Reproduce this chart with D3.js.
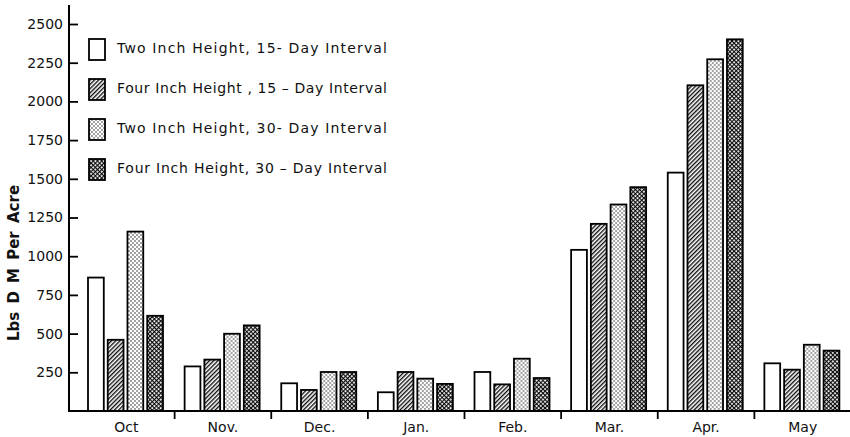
<!DOCTYPE html>
<html>
<head>
<meta charset="utf-8">
<script src="https://cdn.jsdelivr.net/npm/d3@7"></script>
<style>
  body { margin: 0; background: #fff; }
  text { font-family: "DejaVu Sans", sans-serif; fill: #111; }
</style>
</head>
<body>
<svg id="chart"></svg>
<script>
// data
const months = ["Oct", "Nov.", "Dec.", "Jan.", "Feb.", "Mar.", "Apr.", "May"];
const seriesNames = [
    "Two Inch Height, 15- Day Interval",
    "Four Inch Height , 15 – Day Interval",
    "Two Inch Height, 30- Day Interval",
    "Four Inch Height, 30 – Day Interval"
];
const twoInch15 = [862, 288, 179, 121, 252, 1041, 1540, 308];
const fourInch15 = [460, 332, 136, 252, 172, 1209, 2104, 267];
const twoInch30 = [1159, 499, 252, 209, 338, 1334, 2272, 428];
const fourInch30 = [615, 553, 252, 175, 213, 1446, 2401, 390];
const yTicks = [250, 500, 750, 1000, 1250, 1500, 1750, 2000, 2250, 2500];

const allSeries = [twoInch15, fourInch15, twoInch30, fourInch30];
const fills = ["#fff", "url(#hatch)", "url(#dots)", "url(#cross)"];

const width = 850, height = 437;
const svg = d3.select("#chart").attr("width", width).attr("height", height);

// patterns
const defs = svg.append("defs");
const hatch = defs.append("pattern").attr("id", "hatch")
    .attr("patternUnits", "userSpaceOnUse").attr("width", 3).attr("height", 3)
    .attr("patternTransform", "rotate(45)");
hatch.append("rect").attr("width", 3).attr("height", 3).attr("fill", "#fff");
hatch.append("line").attr("x1", 0.7).attr("y1", 0).attr("x2", 0.7).attr("y2", 3)
    .attr("stroke", "#000").attr("stroke-width", 1.3);

const dots = defs.append("pattern").attr("id", "dots")
    .attr("patternUnits", "userSpaceOnUse").attr("width", 4).attr("height", 4);
dots.append("rect").attr("width", 4).attr("height", 4).attr("fill", "#fff");
dots.append("circle").attr("cx", 1).attr("cy", 1).attr("r", 0.7).attr("fill", "#000");
dots.append("circle").attr("cx", 3).attr("cy", 3).attr("r", 0.7).attr("fill", "#000");

const cross = defs.append("pattern").attr("id", "cross")
    .attr("patternUnits", "userSpaceOnUse").attr("width", 3).attr("height", 3)
    .attr("patternTransform", "rotate(45)");
cross.append("rect").attr("width", 3).attr("height", 3).attr("fill", "#fff");
cross.append("line").attr("x1", 0.6).attr("y1", 0).attr("x2", 0.6).attr("y2", 3)
    .attr("stroke", "#000").attr("stroke-width", 1.1);
cross.append("line").attr("x1", 0).attr("y1", 0.6).attr("x2", 3).attr("y2", 0.6)
    .attr("stroke", "#000").attr("stroke-width", 1.1);

// scales
const axisX = 69, baseY = 411;
const x = d3.scaleBand().domain(months).range([78, 851]);
const xs = d3.scaleBand().domain(d3.range(4)).range([10, 85]).paddingInner(0.2);
const y = d3.scaleLinear().domain([0, 2500]).range([baseY, 24]);

// bars
const groups = svg.append("g").selectAll("g")
    .data(months).join("g")
    .attr("transform", d => `translate(${x(d)},0)`);

groups.selectAll("rect")
    .data((m, i) => allSeries.map((s, k) => ({ k: k, v: s[i] })))
    .join("rect")
    .attr("x", d => xs(d.k))
    .attr("y", d => y(d.v))
    .attr("width", xs.bandwidth())
    .attr("height", d => baseY - y(d.v))
    .attr("fill", d => fills[d.k])
    .attr("stroke", "#000")
    .attr("stroke-width", 1.8);

// y axis, ticks pointing inward
const yAxis = d3.axisLeft(y).tickValues(yTicks).tickFormat(d3.format("d"))
    .tickSize(-9).tickPadding(6).tickSizeOuter(0);
const yg = svg.append("g").attr("transform", `translate(${axisX},0)`).call(yAxis);
yg.select(".domain").remove();
yg.selectAll(".tick line").attr("stroke", "#000").attr("stroke-width", 1.8);
yg.selectAll(".tick text").style("font-size", "14px").attr("fill", "#111");
svg.append("line").attr("x1", axisX).attr("x2", axisX).attr("y1", 5).attr("y2", baseY + 1)
    .attr("stroke", "#000").attr("stroke-width", 2);

// x axis: baseline, separator ticks and month labels
svg.append("line").attr("x1", axisX).attr("x2", width).attr("y1", baseY).attr("y2", baseY)
    .attr("stroke", "#000").attr("stroke-width", 2);
const xAxis = d3.axisBottom(x).tickSize(0).tickPadding(0);
const xg = svg.append("g").attr("transform", `translate(0,${baseY})`).call(xAxis);
xg.select(".domain").remove();
xg.selectAll(".tick text").attr("dy", null).attr("y", 21).style("font-size", "14px");
svg.append("g").selectAll("line")
    .data(months.slice(1)).join("line")
    .attr("x1", d => x(d)).attr("x2", d => x(d))
    .attr("y1", baseY).attr("y2", baseY + 8)
    .attr("stroke", "#000").attr("stroke-width", 1.8);

// y title
svg.append("text")
    .attr("transform", "translate(19,263) rotate(-90)")
    .attr("text-anchor", "middle")
    .style("font-size", "15px").style("font-weight", "bold")
    .style("word-spacing", "3px")
    .text("Lbs  D M  Per  Acre");

// legend
const legend = svg.append("g").selectAll("g")
    .data(seriesNames).join("g")
    .attr("transform", (d, i) => `translate(89,${53 + i * 40})`);
legend.append("rect")
    .attr("x", 0).attr("y", -14).attr("width", 16).attr("height", 21)
    .attr("fill", (d, i) => fills[i])
    .attr("stroke", "#000").attr("stroke-width", 1.8);
legend.append("text")
    .attr("x", 28).attr("y", 0)
    .attr("textLength", 270)
    .attr("lengthAdjust", "spacing")
    .style("font-size", "14px")
    .text(d => d);
</script>
</body>
</html>
